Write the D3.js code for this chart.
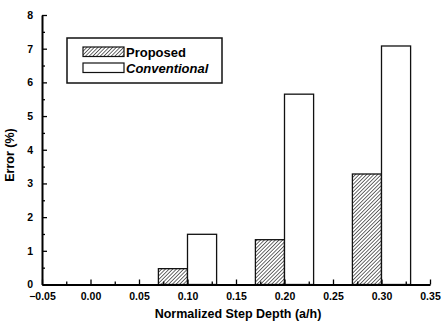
<!DOCTYPE html>
<html>
<head>
<meta charset="utf-8">
<script src="https://cdn.jsdelivr.net/npm/d3@7"></script>
<style>
  html, body { margin: 0; padding: 0; background: #fff; }
  svg { display: block; font-family: Arial, "Liberation Sans", sans-serif; }
</style>
</head>
<body>
<div id="chart"></div>
<script>
// data
const depths = [0.10, 0.20, 0.30];
const proposed = [0.47, 1.33, 3.28];
const conventional = [1.49, 5.65, 7.08];
const barWidth = 0.03;
const xTicks = [-0.05, 0.00, 0.05, 0.10, 0.15, 0.20, 0.25, 0.30, 0.35];
const yTicks = [0, 1, 2, 3, 4, 5, 6, 7, 8];

const W = 442, H = 325;

const svg = d3.select('#chart').append('svg')
  .attr('width', W)
  .attr('height', H);

// hatch pattern for the "Proposed" bars
const defs = svg.append('defs');
defs.append('pattern')
  .attr('id', 'hatch')
  .attr('patternUnits', 'userSpaceOnUse')
  .attr('width', 2.6)
  .attr('height', 2.6)
  .attr('patternTransform', 'rotate(45)')
  .append('line')
  .attr('x1', 0).attr('y1', 0)
  .attr('x2', 0).attr('y2', 2.6)
  .attr('stroke', '#1a1a1a')
  .attr('stroke-width', 1.3);

const x = d3.scaleLinear().domain([-0.05, 0.35]).range([42, 430]);
const y = d3.scaleLinear().domain([0, 8]).range([284.5, 15]);

// bars
const g = svg.append('g');
g.selectAll('.prop')
  .data(depths)
  .enter().append('rect')
  .attr('x', d => x(d - barWidth))
  .attr('y', (d, i) => y(proposed[i]))
  .attr('width', d => x(d) - x(d - barWidth))
  .attr('height', (d, i) => y(0) - y(proposed[i]))
  .attr('fill', 'url(#hatch)')
  .attr('stroke', '#111')
  .attr('stroke-width', 1.3);

g.selectAll('.conv')
  .data(depths)
  .enter().append('rect')
  .attr('x', d => x(d))
  .attr('y', (d, i) => y(conventional[i]))
  .attr('width', d => x(d + barWidth) - x(d))
  .attr('height', (d, i) => y(0) - y(conventional[i]))
  .attr('fill', '#fff')
  .attr('stroke', '#111')
  .attr('stroke-width', 1.3);

// axes, ticks pointing inward
const xAxis = svg.append('g')
  .attr('transform', `translate(0,${y(0)})`)
  .call(d3.axisBottom(x).tickValues(xTicks).tickSizeInner(-5).tickSizeOuter(0)
    .tickFormat(d3.format('.2f')));
xAxis.selectAll('text').attr('y', 8).attr('dy', '0.71em');

svg.append('g')
  .attr('transform', `translate(0,${y(0)})`)
  .call(d3.axisBottom(x).tickValues(d3.range(-0.025, 0.35, 0.05)).tickSize(-3).tickFormat(''))
  .select('.domain').remove();

const yAxis = svg.append('g')
  .attr('transform', `translate(${x(-0.05)},0)`)
  .call(d3.axisLeft(y).tickValues(yTicks).tickSizeInner(-5).tickSizeOuter(0)
    .tickFormat(d3.format('d')));
yAxis.selectAll('text').attr('x', -9);

svg.append('g')
  .attr('transform', `translate(${x(-0.05)},0)`)
  .call(d3.axisLeft(y).tickValues(d3.range(0.5, 8, 1)).tickSize(-3).tickFormat(''))
  .select('.domain').remove();

svg.selectAll('.domain').attr('stroke', '#000').attr('stroke-width', 2);
svg.selectAll('.tick line').attr('stroke', '#000').attr('stroke-width', 1.3);
svg.selectAll('.tick text')
  .attr('fill', '#000')
  .attr('font-size', 10.5)
  .attr('font-weight', 'bold')
  .attr('font-family', 'Arial, "Liberation Sans", sans-serif');

// axis titles
svg.append('text')
  .attr('x', (x(-0.05) + x(0.35)) / 2 + 2)
  .attr('y', 318)
  .attr('text-anchor', 'middle')
  .attr('font-size', 12.5)
  .attr('font-weight', 'bold')
  .text('Normalized Step Depth (a/h)');

svg.append('text')
  .attr('transform', 'translate(14,155) rotate(-90)')
  .attr('text-anchor', 'middle')
  .attr('font-size', 12.5)
  .attr('font-weight', 'bold')
  .text('Error (%)');

// legend
const legend = svg.append('g');
legend.append('rect')
  .attr('x', 67).attr('y', 38)
  .attr('width', 155).attr('height', 45)
  .attr('fill', '#fff')
  .attr('stroke', '#111')
  .attr('stroke-width', 1.5);

const legendItems = [
  { label: 'Proposed', fill: 'url(#hatch)', style: 'normal' },
  { label: 'Conventional', fill: '#fff', style: 'italic' },
];
legend.selectAll('.item')
  .data(legendItems)
  .enter().append('g')
  .attr('transform', (d, i) => `translate(83,${47 + i * 16})`)
  .each(function (d) {
    const it = d3.select(this);
    it.append('rect')
      .attr('width', 41).attr('height', 9.5)
      .attr('fill', d.fill)
      .attr('stroke', '#111')
      .attr('stroke-width', 1.2);
    it.append('text')
      .attr('x', 43).attr('y', 9.5)
      .attr('font-size', 13)
      .attr('font-style', d.style)
      .attr('font-weight', 'bold')
      .text(d.label);
  });
</script>
</body>
</html>
